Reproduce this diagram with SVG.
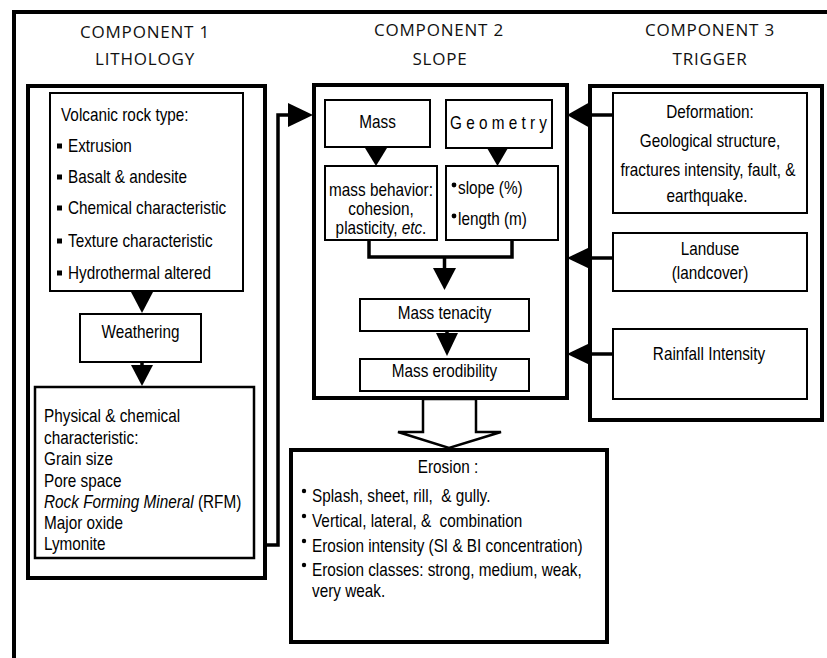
<svg xmlns="http://www.w3.org/2000/svg" width="827" height="658" viewBox="0 0 827 658">
<style>
  .t { font-family: "Liberation Sans", Arial, sans-serif; font-size: 17.5px; fill: #000; }
  .c { text-anchor: middle; }
  .h { font-family: "Open Sans", "Noto Sans", sans-serif; font-size: 17px; letter-spacing: 0.8px; text-anchor: middle; fill: #111; }
  .big { fill: #fff; stroke: #000; stroke-width: 4; }
  .box { fill: #fff; stroke: #000; stroke-width: 2; }
  .box2 { fill: #fff; stroke: #000; stroke-width: 2.5; }
  .ln { fill: none; stroke: #000; stroke-width: 3.5; }
  .tri { fill: #000; stroke: none; }
  .frame { stroke: #000; stroke-width: 4; fill: none; }
</style>
<rect width="827" height="658" fill="#fff"/>
<g id="frame">
  <line class="frame" x1="12" y1="12" x2="827" y2="12"/>
  <line class="frame" x1="14" y1="10" x2="14" y2="658"/>
</g>

<g id="component1">
  <text class="h" x="145" y="38">COMPONENT 1</text>
  <text class="h" x="145" y="65">LITHOLOGY</text>
  <rect class="big" x="28" y="86" width="237" height="492"/>
</g>
<g id="volcanic">
  <rect class="box" x="50" y="93" width="193" height="198"/>
  <text class="t" transform="matrix(.875 0 0 1 61 121)">Volcanic rock type:</text>
  <rect x="57" y="143.5" width="5" height="5"/>
  <text class="t" transform="matrix(.875 0 0 1 68 152)">Extrusion</text>
  <rect x="57" y="174.5" width="5" height="5"/>
  <text class="t" transform="matrix(.875 0 0 1 68 183)">Basalt &amp; andesite</text>
  <rect x="57" y="205.5" width="5" height="5"/>
  <text class="t" transform="matrix(.875 0 0 1 68 214)">Chemical characteristic</text>
  <rect x="57" y="238.5" width="5" height="5"/>
  <text class="t" transform="matrix(.875 0 0 1 68 247)">Texture characteristic</text>
  <rect x="57" y="270.5" width="5" height="5"/>
  <text class="t" transform="matrix(.875 0 0 1 68 279)">Hydrothermal altered</text>
</g>
<g id="weathering">
  <rect class="box" x="80" y="314" width="121" height="48"/>
  <text class="t c" transform="matrix(.875 0 0 1 140.5 338)">Weathering</text>
</g>
<g id="physical">
  <rect class="box2" x="35" y="387" width="219" height="171"/>
  <text class="t" transform="matrix(.875 0 0 1 44 422)">Physical &amp; chemical</text>
  <text class="t" transform="matrix(.875 0 0 1 44 443.5)">characteristic:</text>
  <text class="t" transform="matrix(.875 0 0 1 44 465)">Grain size</text>
  <text class="t" transform="matrix(.875 0 0 1 44 486.5)">Pore space</text>
  <text class="t" transform="matrix(.875 0 0 1 44 508)"><tspan font-style="italic">Rock Forming Mineral</tspan> (RFM)</text>
  <text class="t" transform="matrix(.875 0 0 1 44 529)">Major oxide</text>
  <text class="t" transform="matrix(.875 0 0 1 44 550)">Lymonite</text>
</g>

<g id="component2">
  <text class="h" x="439" y="36">COMPONENT 2</text>
  <text class="h" x="440" y="65">SLOPE</text>
  <rect class="big" x="314" y="85" width="253" height="313"/>
</g>
<g id="mass">
  <rect class="box" x="325" y="100" width="105" height="47"/>
  <text class="t c" transform="matrix(.875 0 0 1 377.5 128)">Mass</text>
</g>
<g id="geometry">
  <rect class="box" x="446" y="100" width="106" height="48"/>
  <text class="t c" transform="matrix(.875 0 0 1 498.5 129)">G e o m e t r y</text>
</g>
<g id="mass-behavior">
  <rect class="box" x="325" y="166" width="112" height="74"/>
  <text class="t c" transform="matrix(.875 0 0 1 381 196)">mass behavior:</text>
  <text class="t c" transform="matrix(.875 0 0 1 381 215)">cohesion,</text>
  <text class="t c" transform="matrix(.875 0 0 1 381 234)">plasticity, <tspan font-style="italic">etc</tspan>.</text>
</g>
<g id="slope-geometry">
  <rect class="box" x="446" y="166" width="112" height="74"/>
  <circle cx="454" cy="185" r="2.4"/>
  <text class="t" transform="matrix(.875 0 0 1 458 194)">slope (%)</text>
  <circle cx="454" cy="216" r="2.4"/>
  <text class="t" transform="matrix(.875 0 0 1 458 225)">length (m)</text>
</g>
<g id="mass-tenacity">
  <rect class="box" x="360" y="299" width="169" height="32"/>
  <text class="t c" transform="matrix(.875 0 0 1 444.5 319)">Mass tenacity</text>
</g>
<g id="mass-erodibility">
  <rect class="box" x="360" y="359" width="169" height="32"/>
  <text class="t c" transform="matrix(.875 0 0 1 444.5 377)">Mass erodibility</text>
</g>

<g id="component3">
  <text class="h" x="710" y="36">COMPONENT 3</text>
  <text class="h" x="710" y="65">TRIGGER</text>
  <rect class="big" x="590" y="86" width="232" height="334"/>
</g>
<g id="deformation">
  <rect class="box" x="613" y="93" width="194" height="120"/>
  <text class="t c" transform="matrix(.875 0 0 1 710 118)">Deformation:</text>
  <text class="t c" transform="matrix(.875 0 0 1 710 147)">Geological structure,</text>
  <text class="t c" transform="matrix(.875 0 0 1 708 176)">fractures intensity, fault, &amp;</text>
  <text class="t c" transform="matrix(.875 0 0 1 707 202)">earthquake.</text>
</g>
<g id="landuse">
  <rect class="box" x="613" y="233" width="194" height="58"/>
  <text class="t c" transform="matrix(.875 0 0 1 710 255)">Landuse</text>
  <text class="t c" transform="matrix(.875 0 0 1 710 279)">(landcover)</text>
</g>
<g id="rainfall">
  <rect class="box" x="613" y="329" width="194" height="70"/>
  <text class="t c" transform="matrix(.875 0 0 1 709 360)">Rainfall Intensity</text>
</g>

<g id="erosion">
  <rect class="big" x="291" y="450" width="316" height="192"/>
  <text class="t c" transform="matrix(.875 0 0 1 448 473)">Erosion :</text>
  <circle cx="304" cy="491" r="2.2"/>
  <text class="t" transform="matrix(.875 0 0 1 312 502)" xml:space="preserve">Splash, sheet, rill,  &amp; gully.</text>
  <circle cx="304" cy="516" r="2.2"/>
  <text class="t" transform="matrix(.875 0 0 1 312 527)" xml:space="preserve">Vertical, lateral, &amp;  combination</text>
  <circle cx="304" cy="541" r="2.2"/>
  <text class="t" transform="matrix(.875 0 0 1 312 552)">Erosion intensity (SI &amp; BI concentration)</text>
  <circle cx="304" cy="565" r="2.2"/>
  <text class="t" transform="matrix(.875 0 0 1 312 576)">Erosion classes: strong, medium, weak,</text>
  <text class="t" transform="matrix(.875 0 0 1 312 597)">very weak.</text>
</g>

<g id="connectors">
  <polyline class="ln" points="265,545 278,545 278,115 290,115"/>
  <polygon class="tri" points="288,103 313,115 288,127"/>
  <polygon class="tri" points="131,292 153,292 142,313"/>
  <line class="ln" x1="142" y1="362" x2="142" y2="366"/>
  <polygon class="tri" points="131,365 153,365 142,386"/>
  <polygon class="tri" points="365,148 387,148 376,166"/>
  <polygon class="tri" points="487,148 508,148 497.5,166"/>
  <polyline class="ln" points="369,240 369,257 512,257 512,240"/>
  <line class="ln" x1="444.5" y1="257" x2="444.5" y2="269"/>
  <polygon class="tri" points="433,268 456,268 444.5,290"/>
  <line class="ln" x1="447" y1="331" x2="447" y2="334"/>
  <polygon class="tri" points="436,333 458,333 447,356"/>
  <line class="ln" x1="613" y1="115" x2="588" y2="115"/>
  <polygon class="tri" points="590,102 567,115 590,128"/>
  <line class="ln" x1="613" y1="258" x2="588" y2="258"/>
  <polygon class="tri" points="590,247 567,258 590,269"/>
  <line class="ln" x1="613" y1="354" x2="588" y2="354"/>
  <polygon class="tri" points="590,343 567,354 590,365"/>
  <polygon points="423,399 423,432 398,432 449,448 501,432 476,432 476,399" fill="#fff" stroke="#000" stroke-width="2.5" stroke-linejoin="miter"/>
</g>
</svg>
